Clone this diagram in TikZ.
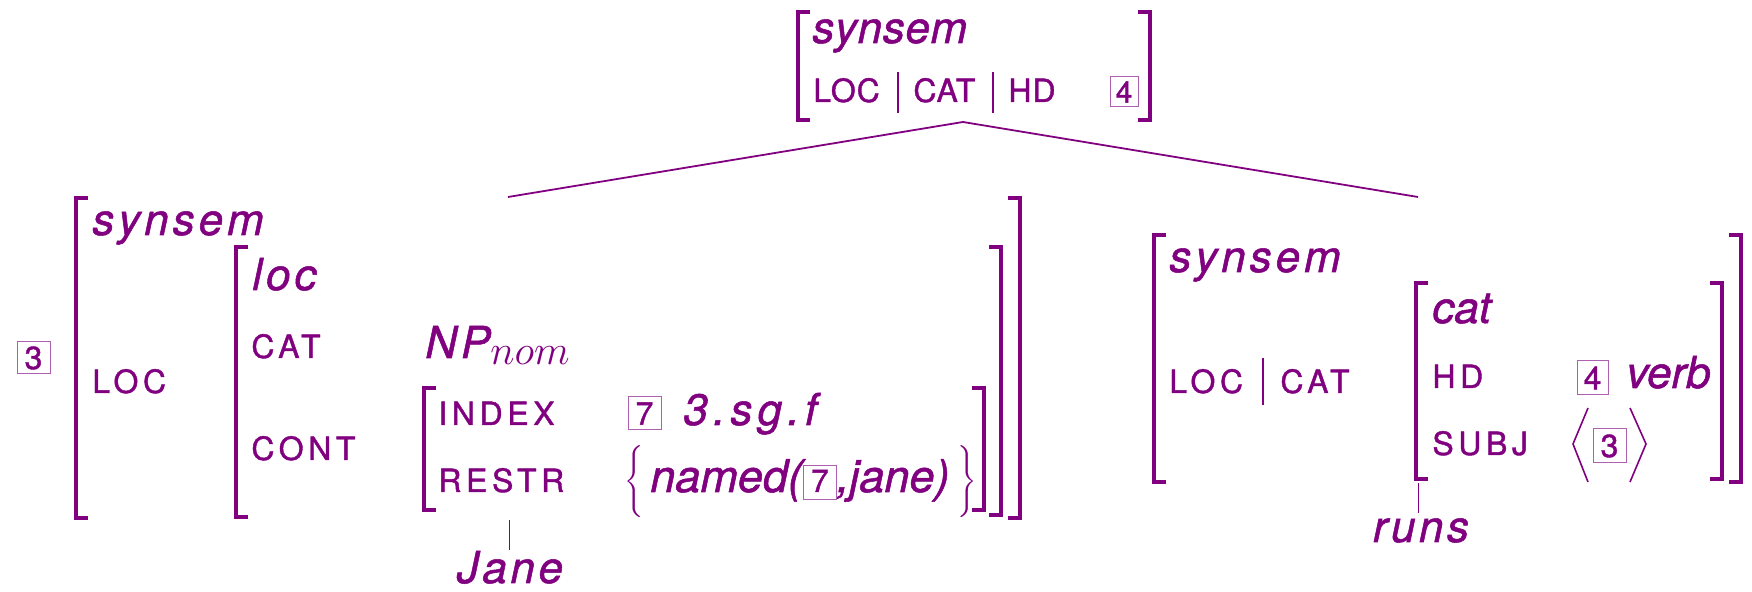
\documentclass[tikz,border=0pt]{standalone}
\usepackage{fontspec}
\usepackage{exscale}
\setmainfont{TeX Gyre Heros}[FakeBold=1.2]
\definecolor{avm}{RGB}{128,0,128}
\definecolor{boxline}{RGB}{175,95,175}
% boxed structure-sharing tag used inside running text
\newcommand\avmtag[1]{{\setlength\fboxsep{0pt}\setlength\fboxrule{0.5pt}%
  \fcolorbox{boxline}{white}{\upshape\fontsize{16}{16}\selectfont
  \makebox[16pt]{\rule[-3.5pt]{0pt}{16.5pt}#1}}}}
\tikzset{
  every node/.style={text=avm, inner sep=0pt},
  mtyp/.style={font=\fontsize{22}{22}\selectfont\itshape\addfontfeatures{LetterSpace=1.5}, anchor=base west},
  mlab/.style={font=\fontsize{16}{16}\selectfont\addfontfeatures{LetterSpace=3}, anchor=base west},
  dtyp/.style={font=\fontsize{22}{22}\selectfont\itshape\addfontfeatures{LetterSpace=9}, anchor=base west},
  vtyp/.style={font=\fontsize{22}{22}\selectfont\itshape, anchor=base west},
  dlab/.style={font=\fontsize{16}{16}\selectfont\addfontfeatures{LetterSpace=14.4}, anchor=base west},
  word/.style={font=\fontsize{22}{22}\selectfont\itshape\addfontfeatures{LetterSpace=8}, anchor=base},
  brk/.style={draw=avm, line width=1.6pt, line join=miter},
  tagbox/.style={draw=boxline, line width=0.5pt, minimum width=16.5pt,
    minimum height=16pt, font=\fontsize{16}{16}\selectfont},
  branch/.style={draw=avm, line width=0.9pt},
  tick/.style={draw=avm, line width=0.5pt},
  pathsep/.style={draw=avm, line width=0.8pt},
  brace/.style={font=\fontsize{12}{12}\selectfont},
}
% AVM brackets: x, top y, bottom y
\newcommand\lbrk[3]{\draw[brk] (#1+12,#2) -- (#1,#2) -- (#1,#3) -- (#1+12,#3);}
\newcommand\rbrk[3]{\draw[brk] (#1-12,#2) -- (#1,#2) -- (#1,#3) -- (#1-12,#3);}
\begin{document}
\begin{tikzpicture}[x=0.5pt, y=-0.5pt]
\useasboundingbox (0,0) rectangle (1752,592);

% mother node
\lbrk{798}{12}{120}
\rbrk{1150}{12}{120}
\node[mtyp] (mtype) at (812,43) {synsem};
\node[mlab] (mloc) at (813,102) {LOC};
\node[mlab] (mcat) at (913,102) {CAT};
\node[mlab] (mhd) at (1008,102) {HD};
\draw[pathsep] (898,72) -- (898,113);
\draw[pathsep] (993,72) -- (993,113);
\node[tagbox, minimum width=14pt, minimum height=15pt, font=\fontsize{15}{15}\selectfont] (mtag) at (1124,92) {4};

% branches
\coordinate (apex) at (963,122);
\coordinate (ltop) at (508,197);
\coordinate (rtop) at (1418,197);
\draw[branch] (apex) -- (ltop);
\draw[branch] (apex) -- (rtop);

% subject daughter
\node[tagbox] (stag) at (33.5,358) {3};
\lbrk{76}{198}{518}
\rbrk{1020}{198}{518}
\node[dtyp] (stype) at (92,235) {synsem};
\node[dlab] (sloc) at (92,393) {LOC};
\lbrk{236}{247}{517}
\rbrk{1001}{247}{515}
\node[dtyp] (ltype) at (252,290) {loc};
\node[dlab] (lcat) at (251,358) {CAT};
\node[dtyp] (lcatval) at (425,358)
  {NP\raisebox{-3.5pt}{\upshape\fontsize{20}{20}\selectfont$nom$}};
\node[dlab] (lcont) at (251,460) {CONT};
\lbrk{424}{388}{510}
\rbrk{984}{388}{510}
\node[dlab] (cindex) at (438,425) {INDEX};
\node[dlab] (crestr) at (438,492) {RESTR};
\node[tagbox, minimum height=16.5pt] (itag) at (644.5,413.5) {7};
\node[vtyp] (ival) at (683,425) {3\kern2.6pt.\kern2.6pt s\kern2.6pt g\kern2.6pt.\kern2.6pt f};
\node[brace] (lbr) at (634,481.5) {$\Bigg\{$};
\node[vtyp, font=\fontsize{22.5}{22.5}\selectfont\itshape] (rval) at (650,492) {named(\avmtag{7},jane)};
\node[brace] (rbr) at (967.5,481.5) {$\Bigg\}$};
\coordinate (jtick) at (509,520);
\node[word] (jane) at (510,583) {Jane};
\draw[tick] (jtick) -- (509,550);

% head daughter
\lbrk{1154}{235}{482}
\rbrk{1741}{235}{482}
\node[dtyp] (htype) at (1169,272) {synsem};
\node[dlab] (hloc) at (1169,393) {LOC};
\draw[pathsep] (1263,358) -- (1263,405);
\node[dlab] (hcat) at (1280,393) {CAT};
\lbrk{1416}{283}{479}
\rbrk{1722}{283}{479}
\node[vtyp] (ctype) at (1432,323) {cat};
\node[dlab] (chd) at (1432,388) {HD};
\node[tagbox, minimum width=15.5pt, minimum height=17pt] (htag) at (1592.5,378) {4};
\node[vtyp] (hval) at (1626,388) {verb};
\node[dlab] (csubj) at (1432,455) {SUBJ};
\draw[pathsep] (1588,408) -- (1573,444) -- (1588,482);
\node[tagbox, minimum height=17pt] (subjtag) at (1609.5,446) {3};
\draw[pathsep] (1630,408) -- (1646,444) -- (1630,482);
\coordinate (rtick) at (1418,483);
\node[word] (runs) at (1421,542) {runs};
\draw[tick] (rtick) -- (1418,513);
\end{tikzpicture}
\end{document}
